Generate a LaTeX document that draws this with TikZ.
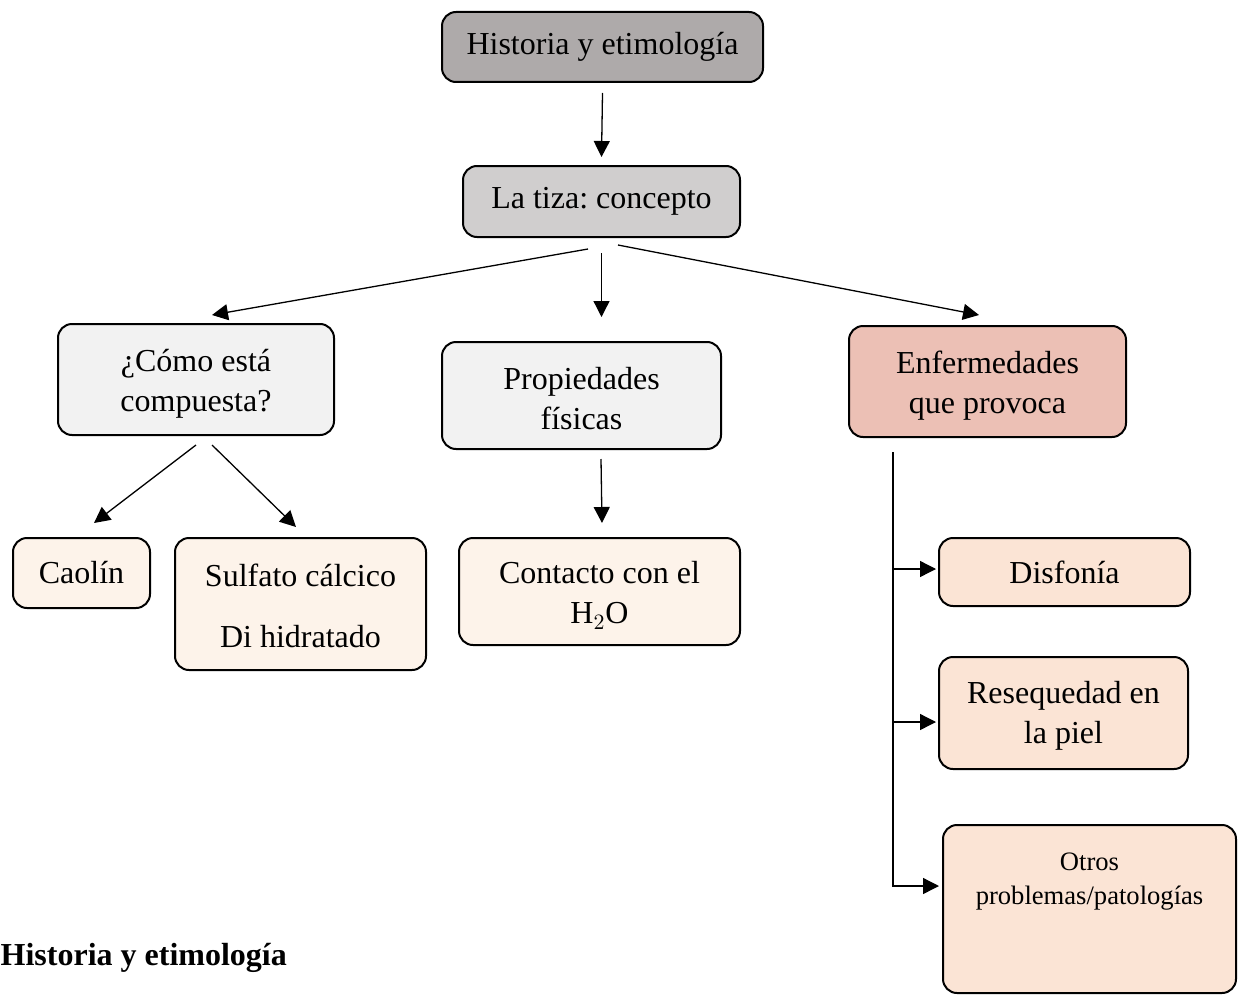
\documentclass[tikz,border=0pt]{standalone}
\usepackage{fontspec}
\setmainfont{Liberation Serif}
\frenchspacing
\usetikzlibrary{arrows.meta}

\definecolor{grisoscuro}{HTML}{AEAAAA}
\definecolor{grismedio}{HTML}{D0CECE}
\definecolor{grisclaro}{HTML}{F2F2F2}
\definecolor{rosado}{HTML}{ECC0B5}
\definecolor{cremaclaro}{HTML}{FDF3EA}
\definecolor{melocoton}{HTML}{FBE4D5}

\newcommand{\alto}[1]{\rule{0pt}{#1}}

\tikzset{
    caja/.style={draw, line width=1pt, rounded corners=7pt, align=center, inner sep=0pt,
        font=\fontsize{16}{20}\selectfont},
}

\begin{document}
\begin{tikzpicture}[x=0.5pt, y=-0.5pt, >={Triangle[length=8pt,width=8pt]}, line width=0.65pt]
        \useasboundingbox (0,0) rectangle (1241,995);
        % cajas
        \node[caja, fill=grisoscuro, minimum width=160.5pt, minimum height=35pt] (hist) at (602.5,47) {Historia y etimología};
        \node[caja, fill=grismedio, minimum width=138.5pt, minimum height=35.5pt] (tiza) at (601.5,201.5) {La tiza: concepto};
        \node[caja, fill=grisclaro, minimum width=138pt, minimum height=55.5pt] (comp) at (196,379.5) {\alto{15.5pt}¿Cómo está\\compuesta?};
        \node[caja, fill=grisclaro, minimum width=139.5pt, minimum height=53.5pt] (prop) at (581.5,395.5) {\alto{14pt}Propiedades\\físicas};
        \node[caja, fill=rosado, minimum width=138.5pt, minimum height=55.5pt] (enf) at (987.5,381.5) {\alto{15pt}Enfermedades\\que provoca};
        \node[caja, fill=cremaclaro, minimum width=68.5pt, minimum height=35pt] (caolin) at (81.5,573) {Caolín};
        \node[caja, fill=cremaclaro, minimum width=125.5pt, minimum height=66pt] (sulf) at (300.5,604) {\alto{13pt}Sulfato cálcico\\[10.5pt]Di hidratado};
        \node[caja, fill=cremaclaro, minimum width=140.5pt, minimum height=53.5pt] (cont) at (599.5,591.5) {\alto{15pt}Contacto con el\\H$_2$O};
        \node[caja, fill=melocoton, minimum width=125.5pt, minimum height=34pt] (disf) at (1064.5,572) {Disfonía};
        \node[caja, fill=melocoton, minimum width=124.5pt, minimum height=56pt] (rese) at (1063.5,713) {\alto{14pt}Resequedad en\\la piel};
        \node[caja, fill=melocoton, minimum width=146.5pt, minimum height=84pt,
            font=\fontsize{13.3}{17}\selectfont] (otros) at (1089.5,909) {\alto{12pt}Otros\\problemas/patologías\\~\\~};
        \node[anchor=base west, inner sep=0pt, font=\fontsize{16}{20}\selectfont\bfseries] (titulo) at (0,965) {Historia y etimología};
        % flechas
        \draw[->] (hist.south) ++(0,10) -- ([yshift=4pt]tiza.north);
        \draw[->] ([xshift=-6.75pt,yshift=-5.5pt]tiza.south) -- ([xshift=8pt,yshift=4pt]comp.north);
        \draw[->] ([yshift=-7.5pt]tiza.south) -- ([xshift=10pt,yshift=12pt]prop.north);
        \draw[->] ([xshift=8.25pt,yshift=-3.5pt]tiza.south) -- ([xshift=-4.25pt,yshift=5pt]enf.north);
        \draw[->] ([yshift=-4.5pt]comp.south) -- ([xshift=6.25pt,yshift=7pt]caolin.north);
        \draw[->] ([xshift=8pt,yshift=-4.5pt]comp.south) -- ([xshift=-2.25pt,yshift=5pt]sulf.north);
        \draw[->] ([xshift=9.75pt,yshift=-4.5pt]prop.south) -- ([xshift=1.25pt,yshift=7pt]cont.north);
        \coordinate (tronco) at ([xshift=-47.25pt,yshift=-7pt]enf.south);
        \draw[->, shorten >=1.5pt] (tronco) |- ([yshift=11.5pt]otros.west);
        \draw[->, shorten >=1pt] (tronco |- disf.west) ++(0,-3) -- ([yshift=1.5pt]disf.west);
        \draw[->, shorten >=1pt] ([yshift=-4.5pt]tronco |- rese.west) -- ([yshift=-4.5pt]rese.west);
    \end{tikzpicture}
\end{document}
